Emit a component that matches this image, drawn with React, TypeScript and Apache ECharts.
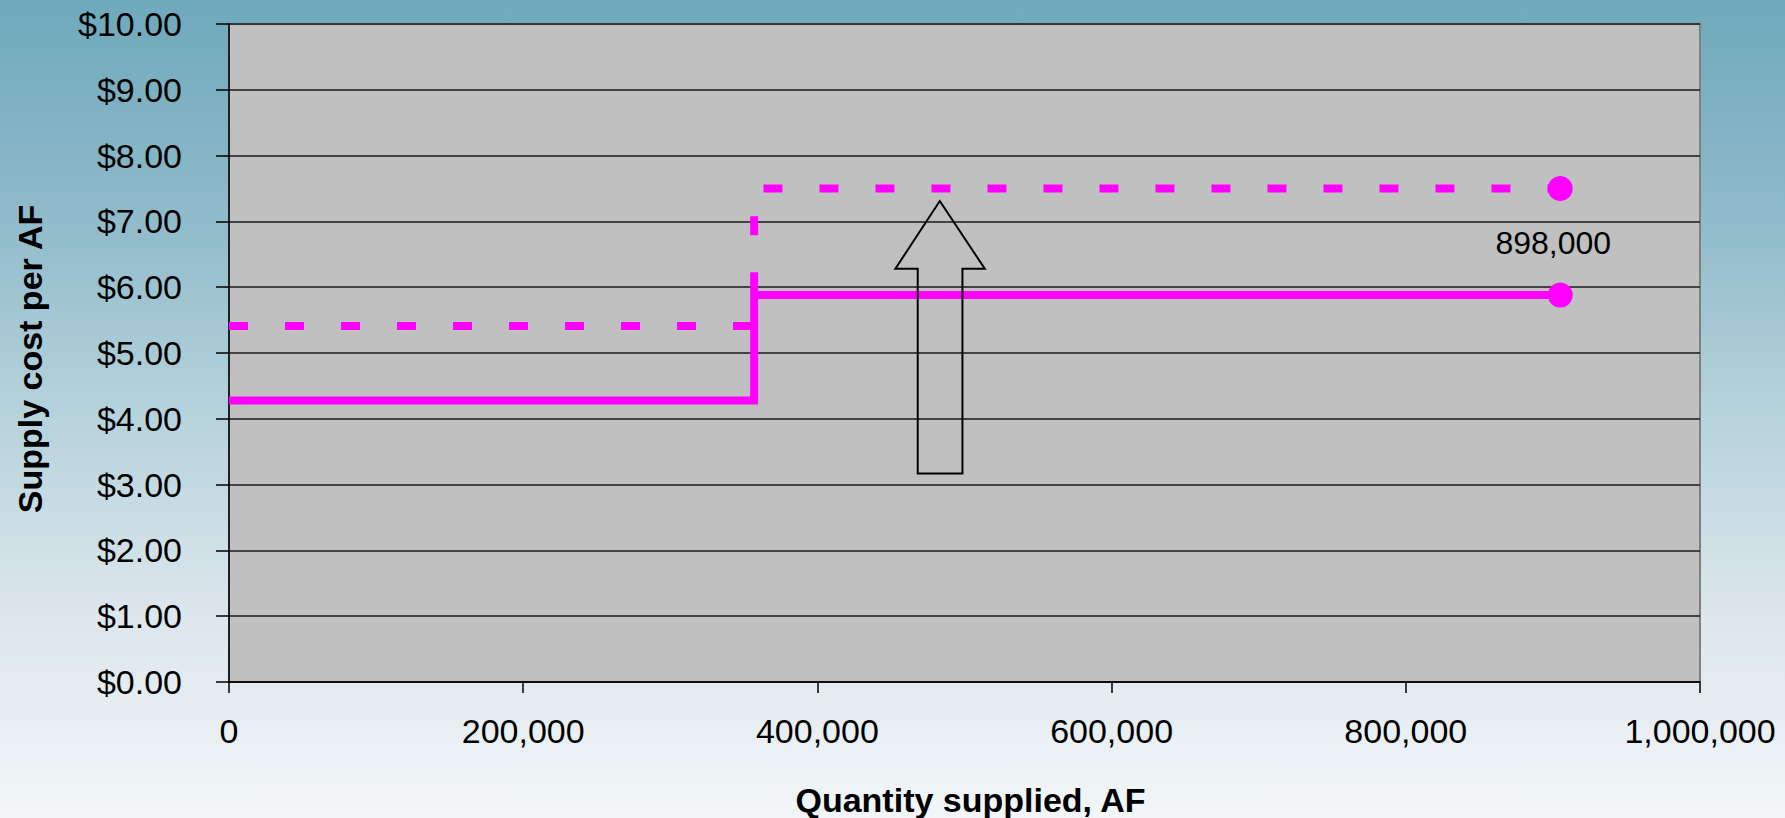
import React, { useEffect, useRef } from "react";
import * as echarts from "echarts";

// ---- Data ----
const X_TICK_MAX = 1000000;
const Y_TICK_MAX = 10;

// Current supply cost curve (solid)
const currentX = [0, 357000, 357000, 905000];
const currentY = [4.28, 4.28, 5.88, 5.88];

// Future supply cost curve (dashed)
const futureX = [0, 357000, 357000, 905000];
const futureY = [5.41, 5.41, 7.5, 7.5];

// End-point label
const endLabel = "898,000";

// Up-arrow annotation outline (data coordinates)
const arrowX = [483200, 513800, 498600, 498600, 468200, 468200, 453000];
const arrowY = [7.31, 6.28, 6.28, 3.17, 3.17, 6.28, 6.28];

const FONT = "Arial, 'Liberation Sans', sans-serif";
const MAGENTA = "#FF00FF";

export default function App() {
  const ref = useRef<HTMLDivElement>(null);

  useEffect(() => {
    document.body.style.margin = "0";
    if (!ref.current) return;
    const chart = echarts.init(ref.current, null, { renderer: "svg" });

    const solidData = currentX.map((x, i) => [x, currentY[i]]);
    const dashedData = futureX.map((x, i) => [x, futureY[i]]);
    const last = currentX.length - 1;

    chart.setOption({
      animation: false,
      backgroundColor: {
        type: "linear",
        x: 0,
        y: 0,
        x2: 0,
        y2: 1,
        colorStops: [
          { offset: 0, color: "#6EA9BB" },
          { offset: 0.25, color: "#8DB9C9" },
          { offset: 0.5, color: "#B5D2DB" },
          { offset: 0.75, color: "#DCE6EC" },
          { offset: 1, color: "#F2F6F8" },
        ],
      },
      grid: {
        left: 229,
        right: 85,
        top: 24,
        bottom: 136,
        outerBoundsMode: "none",
        containLabel: false,
        show: true,
        backgroundColor: "#C0C0C0",
        borderColor: "#808080",
        borderWidth: 2,
      },
      xAxis: {
        type: "value",
        min: 0,
        max: X_TICK_MAX,
        interval: 200000,
        name: "Quantity supplied, AF",
        nameLocation: "middle",
        nameGap: 101,
        nameTextStyle: {
          fontFamily: FONT,
          fontSize: 34,
          fontWeight: "bold",
          color: "#000",
          padding: [0, 0, 0, 12],
        },
        axisLine: { show: true, lineStyle: { color: "#000", width: 1.5 } },
        axisTick: { show: true, length: 11, lineStyle: { color: "#000", width: 1.5 } },
        axisLabel: {
          margin: 32,
          fontFamily: FONT,
          fontSize: 34,
          color: "#000",
          formatter: (v: number) => v.toLocaleString("en-US"),
        },
        splitLine: { show: false },
      },
      yAxis: {
        type: "value",
        min: 0,
        max: Y_TICK_MAX,
        interval: 1,
        name: "Supply cost per AF",
        nameLocation: "middle",
        nameGap: 182,
        nameTextStyle: {
          fontFamily: FONT,
          fontSize: 34,
          fontWeight: "bold",
          color: "#000",
          padding: [0, 12, 0, 0],
        },
        axisLine: { show: true, lineStyle: { color: "#000", width: 1.5 } },
        axisTick: { show: true, length: 13, lineStyle: { color: "#000", width: 1.5 } },
        axisLabel: {
          margin: 47,
          fontFamily: FONT,
          fontSize: 34,
          color: "#000",
          formatter: (v: number) => "$" + v.toFixed(2),
        },
        splitLine: { show: true, lineStyle: { color: "#1a1a1a", width: 1.5 } },
      },
      series: [
        {
          type: "line",
          data: dashedData,
          symbol: "none",
          lineStyle: { color: MAGENTA, width: 8, type: [19, 37], cap: "butt", opacity: 1 },
          z: 3,
        },
        {
          type: "line",
          data: solidData,
          symbol: "none",
          lineStyle: { color: MAGENTA, width: 8, cap: "butt", join: "miter", opacity: 1 },
          z: 3,
        },
        {
          type: "scatter",
          data: [
            {
              value: [futureX[last], futureY[last]],
              label: {
                show: true,
                position: "bottom",
                distance: 26,
                offset: [-7, 0],
                formatter: endLabel,
                fontFamily: FONT,
                fontSize: 32,
                color: "#000",
              },
            },
            { value: [currentX[last], currentY[last]] },
          ],
          symbol: "circle",
          symbolSize: 25,
          itemStyle: { color: MAGENTA, opacity: 1 },
          z: 4,
        },
        {
          type: "custom",
          data: [[arrowX[0], arrowY[0]]],
          renderItem: (_params: any, api: any) => ({
            type: "polygon",
            shape: {
              points: arrowX.map((x, i) => api.coord([x, arrowY[i]])),
            },
            style: { fill: "none", stroke: "#000", lineWidth: 2 },
          }),
          z: 5,
        },
      ],
    });

    return () => chart.dispose();
  }, []);

  return <div ref={ref} style={{ width: 1785, height: 818 }} />;
}
